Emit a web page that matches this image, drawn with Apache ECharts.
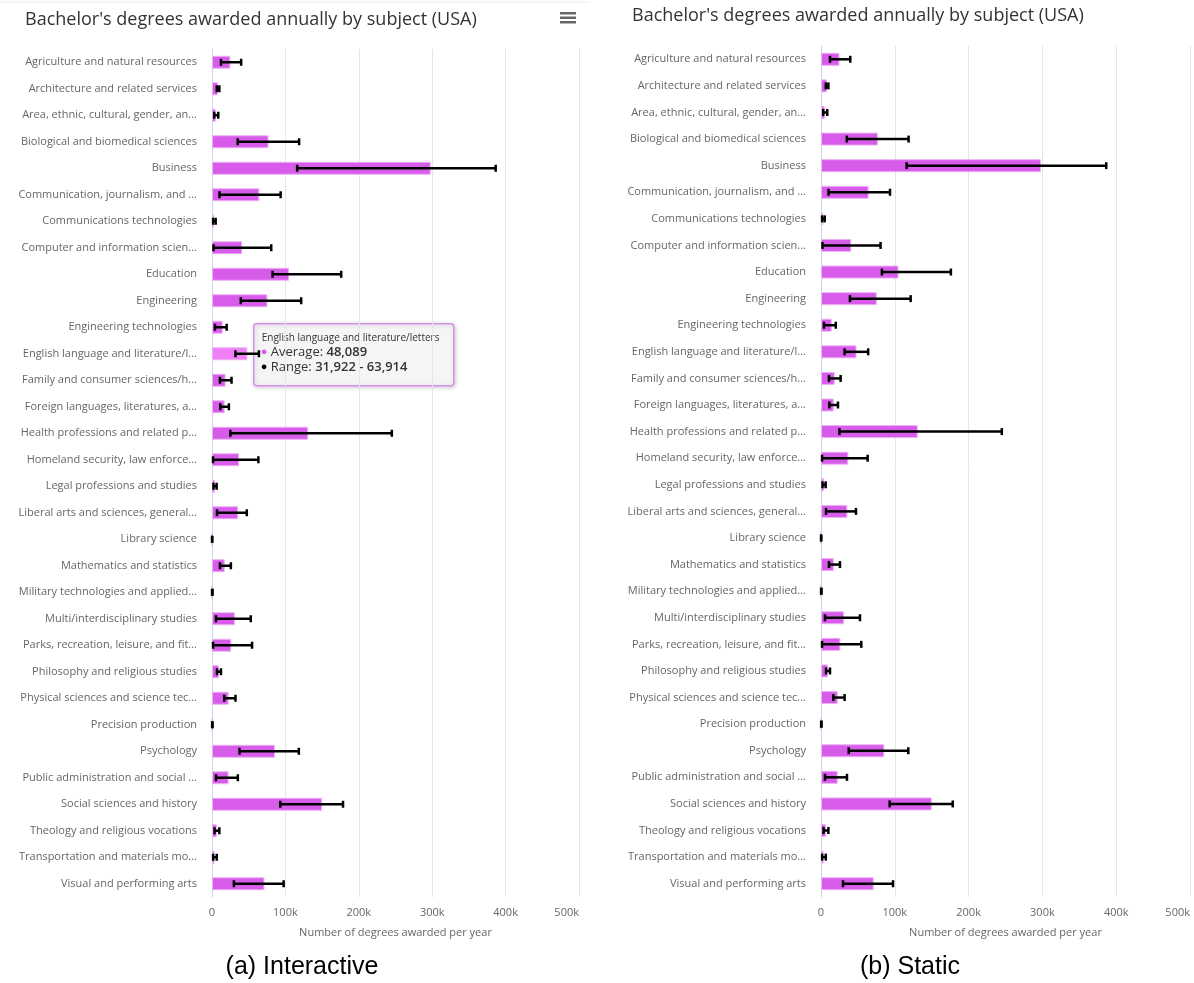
<!DOCTYPE html>
<html>
<head>
<meta charset="utf-8">
<script src="https://cdn.jsdelivr.net/npm/echarts@6/dist/echarts.min.js"></script>
<style>
  body { margin: 0; background: #fff; }
  #container { width: 1194px; height: 983px; }
</style>
</head>
<body>
<div id="container"></div>
<script>
var subjects = [
	'Agriculture and natural resources',
	'Architecture and related services',
	'Area, ethnic, cultural, gender, and group studies',
	'Biological and biomedical sciences',
	'Business',
	'Communication, journalism, and related programs',
	'Communications technologies',
	'Computer and information sciences and support services',
	'Education',
	'Engineering',
	'Engineering technologies',
	'English language and literature/letters',
	'Family and consumer sciences/human sciences',
	'Foreign languages, literatures, and linguistics',
	'Health professions and related programs',
	'Homeland security, law enforcement, and firefighting',
	'Legal professions and studies',
	'Liberal arts and sciences, general studies, and humanities',
	'Library science',
	'Mathematics and statistics',
	'Military technologies and applied sciences',
	'Multi/interdisciplinary studies',
	'Parks, recreation, leisure, and fitness studies',
	'Philosophy and religious studies',
	'Physical sciences and science technologies',
	'Precision production',
	'Psychology',
	'Public administration and social services',
	'Social sciences and history',
	'Theology and religious vocations',
	'Transportation and materials moving',
	'Visual and performing arts'
]

// average per year
var avgDegrees = [25000, 8000, 5000, 77000, 298000, 64500, 3000, 41000, 105000, 75500, 14500, 48089,
	18500, 17200, 131000, 37000, 4000, 35700, 150, 17300, 300, 31200, 26200, 9500, 22600, 400,
	85800, 22600, 150000, 6500, 3500, 71400]
// min / max over the years
var lowDegrees = [12200, 6500, 3000, 35000, 116000, 10200, 1500, 2000, 82500, 39200, 4000, 31922,
	10800, 11300, 25000, 1400, 2000, 6800, 50, 10800, 100, 5400, 1400, 6800, 16700, 200,
	37500, 5400, 93000, 3500, 1500, 29800]
var highDegrees = [39700, 10000, 8500, 118700, 386500, 93500, 5000, 80700, 176000, 121500, 20000, 63914,
	26600, 23000, 245000, 63200, 6300, 47400, 300, 25700, 700, 52800, 54600, 12200, 32000, 700,
	118300, 35200, 178500, 10000, 6500, 97600]

var xTicks = ['0', '100k', '200k', '300k', '400k', '500k']
var hoverIndex = 11

var barColor = '#d75cea'
var labelFont = 'Open Sans'

function fmt(n){
	return n.toLocaleString('en-US')
}

function renderErr(params, api){
	var cat = api.value(0)
	var p1 = api.coord([api.value(1), cat])
	var p2 = api.coord([api.value(2), cat])
	var h = 3.5
	var st = { stroke: '#000', lineWidth: 2.5 }
	return {
		type: 'group',
		children: [
			{ type: 'line', shape: { x1: p1[0], y1: p1[1], x2: p2[0], y2: p2[1] }, style: st },
			{ type: 'line', shape: { x1: p1[0], y1: p1[1] - h, x2: p1[0], y2: p1[1] + h }, style: st },
			{ type: 'line', shape: { x1: p2[0], y1: p2[1] - h, x2: p2[0], y2: p2[1] + h }, style: st }
		]
	}
}

var errData = []
for (var i = 0; i < subjects.length; i++) {
	errData.push([i, lowDegrees[i], highDegrees[i]])
}

var leftBars = avgDegrees.map(function(v, i){
	if (i === hoverIndex) return { value: v, itemStyle: { color: '#ef80f8' } }
	return v
})

function valueAxis(idx){
	return {
		type: 'value',
		gridIndex: idx,
		min: 0,
		max: 500000,
		interval: 100000,
		name: 'Number of degrees awarded per year',
		nameLocation: 'middle',
		nameGap: 30,
		nameTextStyle: { color: '#666', fontSize: 11, fontFamily: labelFont },
		axisLine: { show: false },
		axisTick: { show: false },
		axisLabel: {
			color: '#666', fontSize: 11, fontFamily: labelFont, margin: 10,
			alignMaxLabel: 'right',
			formatter: function(v){ return xTicks[Math.round(v / 100000)] }
		},
		splitLine: { lineStyle: { color: '#e6e6e6' } }
	}
}

function catAxis(idx){
	return {
		type: 'category',
		gridIndex: idx,
		inverse: true,
		data: subjects,
		axisLine: { lineStyle: { color: '#ccd6eb' } },
		axisTick: { show: false },
		axisLabel: {
			color: '#666', fontSize: 11, fontFamily: labelFont, margin: 15,
			width: 180, overflow: 'truncate', ellipsis: '...'
		}
	}
}

var dom = document.getElementById('container')
var myChart = echarts.init(dom)

var tipLines = [
	subjects[hoverIndex],
	'{dotA|●} Average: {b|' + fmt(avgDegrees[hoverIndex]) + '}',
	'{dotB|●} Range: {b|' + fmt(lowDegrees[hoverIndex]) + ' - ' + fmt(highDegrees[hoverIndex]) + '}'
]

option = {
	animation: false,
	backgroundColor: '#fff',
	title: [{
		text: "Bachelor's degrees awarded annually by subject (USA)",
		left: 20, top: 6,
		textStyle: { fontSize: 18, fontWeight: 'normal', color: '#333', fontFamily: labelFont }
	}, {
		text: "Bachelor's degrees awarded annually by subject (USA)",
		left: 627, top: 2,
		textStyle: { fontSize: 18, fontWeight: 'normal', color: '#333', fontFamily: labelFont }
	}],
	grid: [
		{ left: 212, top: 49, width: 367, height: 848 },
		{ left: 821, top: 46, width: 369, height: 851 }
	],
	xAxis: [valueAxis(0), valueAxis(1)],
	yAxis: [catAxis(0), catAxis(1)],
	series: [{
		name: 'Average',
		type: 'bar',
		xAxisIndex: 0, yAxisIndex: 0,
		barWidth: 13,
		itemStyle: { color: barColor, borderColor: '#eeb0f6', borderWidth: 1 },
		data: leftBars
	}, {
		name: 'Range',
		type: 'custom',
		xAxisIndex: 0, yAxisIndex: 0,
		renderItem: renderErr,
		encode: { x: [1, 2], y: 0 },
		data: errData,
		z: 5
	}, {
		name: 'Average',
		type: 'bar',
		xAxisIndex: 1, yAxisIndex: 1,
		barWidth: 13,
		itemStyle: { color: barColor, borderColor: '#eeb0f6', borderWidth: 1 },
		data: avgDegrees
	}, {
		name: 'Range',
		type: 'custom',
		xAxisIndex: 1, yAxisIndex: 1,
		renderItem: renderErr,
		encode: { x: [1, 2], y: 0 },
		data: errData,
		z: 5
	}],
	graphic: [
		// top border of the interactive chart
		{ type: 'line', shape: { x1: 0, y1: 2, x2: 590, y2: 2 }, style: { stroke: '#ececec', lineWidth: 1 } },
		// export menu icon
		{ type: 'rect', shape: { x: 560, y: 12, width: 16, height: 2.5 }, style: { fill: '#666' } },
		{ type: 'rect', shape: { x: 560, y: 16.5, width: 16, height: 2.5 }, style: { fill: '#666' } },
		{ type: 'rect', shape: { x: 560, y: 21, width: 16, height: 2.5 }, style: { fill: '#666' } },
		// tooltip
		{
			type: 'group', left: 253, top: 323, z: 100,
			children: [
				{ type: 'rect', shape: { x: 0, y: 0, width: 200, height: 62, r: 3 },
				  style: { fill: 'rgba(247,247,247,0.96)', stroke: '#d890e8', lineWidth: 1.5,
				           shadowBlur: 4, shadowColor: 'rgba(0,0,0,0.2)', shadowOffsetX: 1, shadowOffsetY: 1 } },
				{ type: 'text', x: 8, y: 9, style: { text: tipLines[0], fill: '#333', fontSize: 10, fontFamily: labelFont } },
				{ type: 'text', x: 7, y: 22, style: {
					text: tipLines[1], fill: '#333', fontSize: 13, fontFamily: labelFont,
					rich: { dotA: { fill: barColor, fontSize: 11 }, b: { fontWeight: 600, fontSize: 13, fontFamily: labelFont } }
				} },
				{ type: 'text', x: 7, y: 37, style: {
					text: tipLines[2], fill: '#333', fontSize: 13, fontFamily: labelFont,
					rich: { dotB: { fill: '#000', fontSize: 11 }, b: { fontWeight: 600, fontSize: 13, fontFamily: labelFont } }
				} }
			]
		},
		// captions
		{ type: 'text', x: 302, y: 967, style: { text: '(a) Interactive', fill: '#000', fontSize: 25, fontFamily: 'Liberation Sans', align: 'center', verticalAlign: 'middle' } },
		{ type: 'text', x: 910, y: 967, style: { text: '(b) Static', fill: '#000', fontSize: 25, fontFamily: 'Liberation Sans', align: 'center', verticalAlign: 'middle' } }
	]
}

myChart.setOption(option, true)
</script>
</body>
</html>
